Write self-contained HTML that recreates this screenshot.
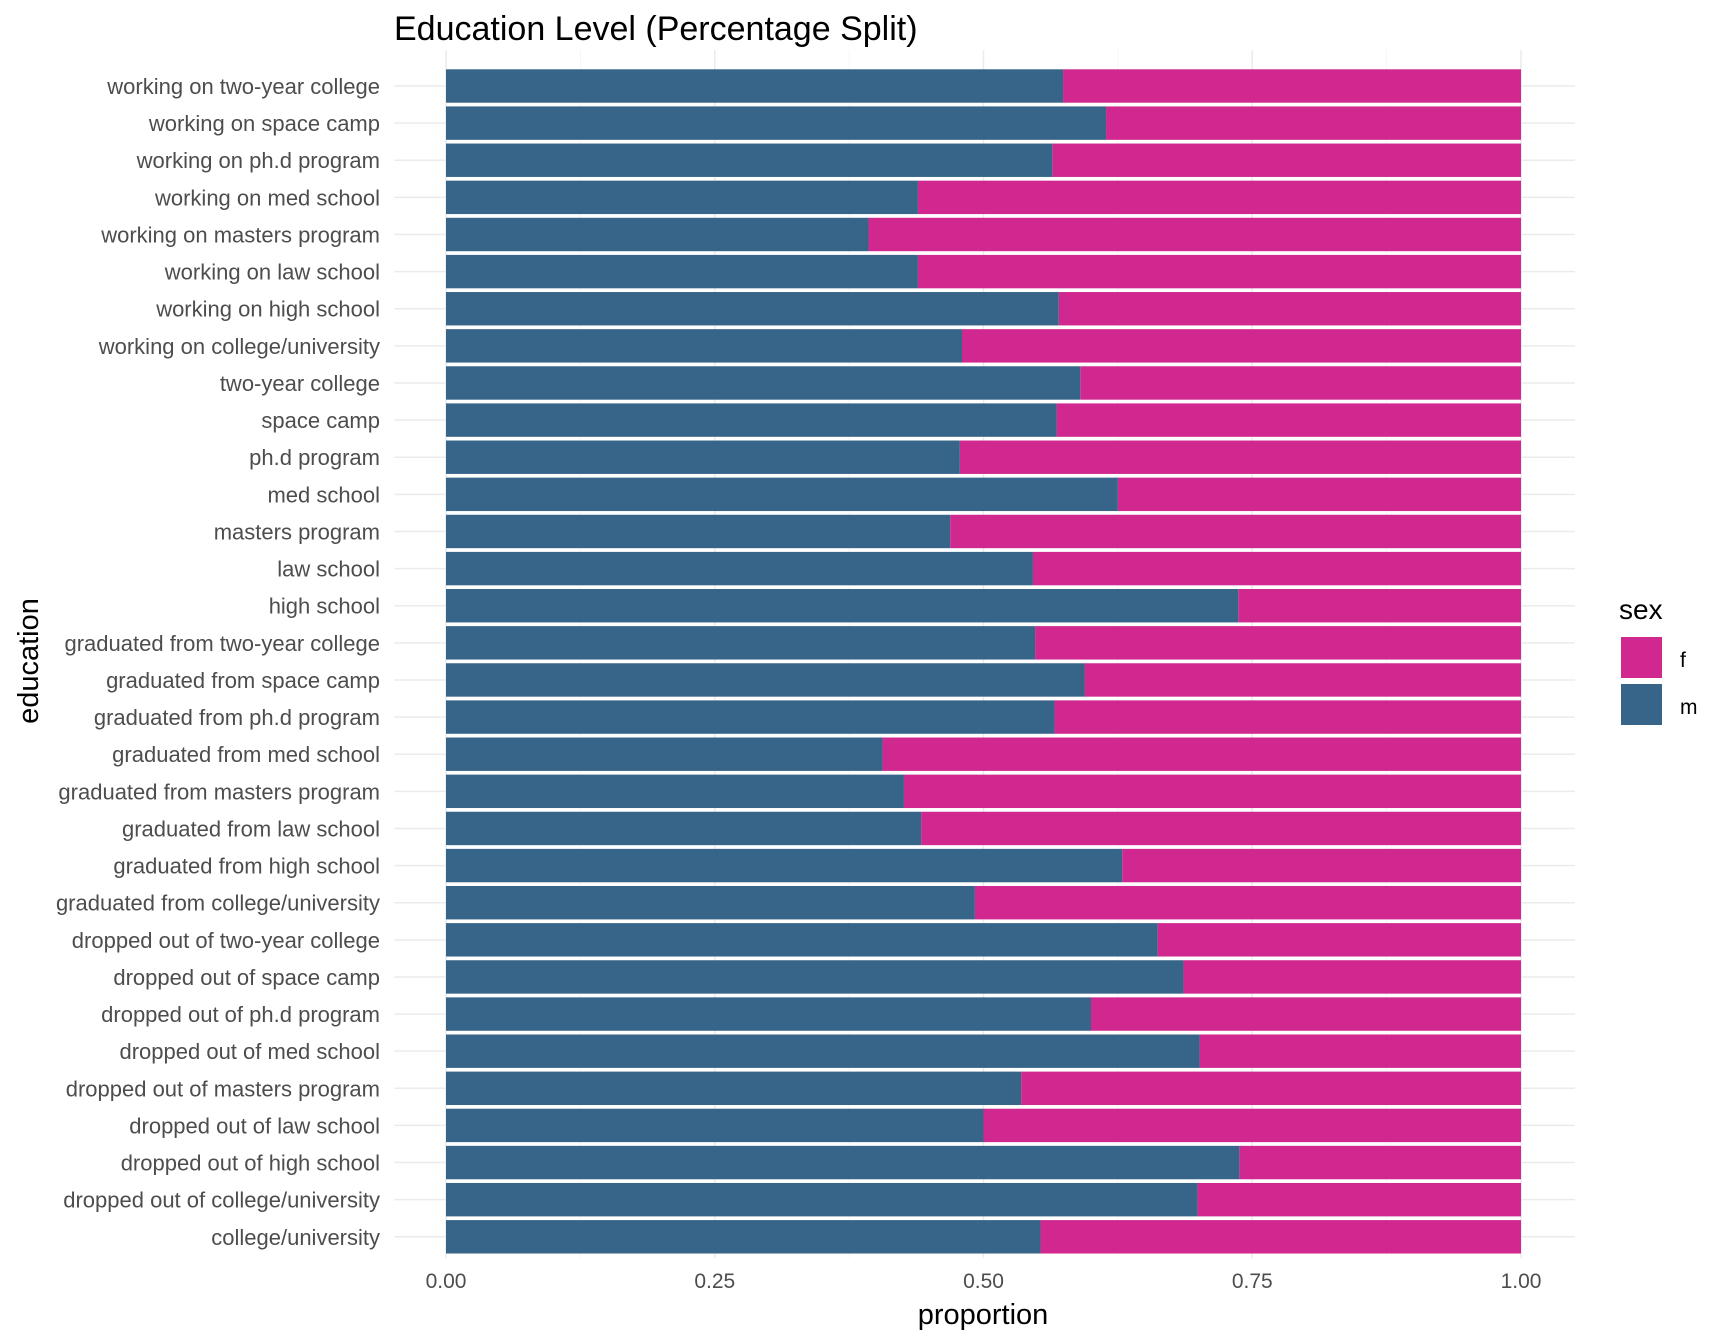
<!DOCTYPE html>
<html><head><meta charset="utf-8"><style>
html,body{margin:0;padding:0;background:#fff;width:1728px;height:1344px;overflow:hidden}
svg{font-family:"Liberation Sans",sans-serif}
</style></head><body>
<svg id="chart" width="1728" height="1344">
<text x="394" y="40" font-size="34" fill="#000">Education Level (Percentage Split)</text>
<g id="grid"></g><g id="bars"></g><g id="ylabels"></g><g id="xlabels"></g>
<text x="983" y="1324" font-size="29" fill="#000" text-anchor="middle">proportion</text>
<text transform="translate(38,661) rotate(-90)" font-size="29" fill="#000" text-anchor="middle">education</text>
<text x="1619" y="619" font-size="28" fill="#000">sex</text>
<rect x="1621" y="637" width="41" height="41" fill="#D0288F"/>
<text x="1680" y="667" font-size="21" fill="#000">f</text>
<rect x="1621" y="684" width="41" height="41" fill="#37658A"/>
<text x="1680" y="714" font-size="21" fill="#000">m</text>
</svg>
<script>
const categories=["working on two-year college","working on space camp","working on ph.d program","working on med school","working on masters program","working on law school","working on high school","working on college/university","two-year college","space camp","ph.d program","med school","masters program","law school","high school","graduated from two-year college","graduated from space camp","graduated from ph.d program","graduated from med school","graduated from masters program","graduated from law school","graduated from high school","graduated from college/university","dropped out of two-year college","dropped out of space camp","dropped out of ph.d program","dropped out of med school","dropped out of masters program","dropped out of law school","dropped out of high school","dropped out of college/university","college/university"];
const maleShare=[0.574,0.614,0.564,0.439,0.393,0.439,0.570,0.480,0.590,0.568,0.478,0.625,0.469,0.546,0.737,0.548,0.594,0.566,0.406,0.426,0.442,0.629,0.492,0.662,0.686,0.600,0.701,0.535,0.500,0.738,0.699,0.553];
const xTicks=[0,0.25,0.5,0.75,1];
const xTickLabels=["0.00","0.25","0.50","0.75","1.00"];
const NS="http://www.w3.org/2000/svg";
const X0=446,X1=1521,PL=394.3,PR=1575,PT=50,PB=1258;
const n=categories.length;
const yTop=86,yBot=1236.8;
const step=(yBot-yTop)/(n-1);
const xs=v=>X0+v*(X1-X0);
const yc=i=>yTop+i*step;
function mk(tag,attrs,parent){const e=document.createElementNS(NS,tag);for(const k in attrs)e.setAttribute(k,attrs[k]);parent.appendChild(e);return e;}
const grid=document.getElementById('grid'),bars=document.getElementById('bars'),yl=document.getElementById('ylabels'),xl=document.getElementById('xlabels');
for(let t=0;t<=1.0001;t+=0.125){const major=Math.abs(t*4-Math.round(t*4))<1e-6;
 const l=mk('line',{x1:xs(t),x2:xs(t),y1:PT,y2:PB,stroke:major?'#ebebeb':'#f3f3f3','stroke-width':major?1.5:0.8},grid);
 
 }
categories.forEach((c,i)=>{
 const g=mk('line',{x1:PL,x2:PR,y1:yc(i),y2:yc(i),stroke:'#ebebeb','stroke-width':1.5},grid);
 
 
 const h=step*0.9,y=yc(i)-h/2,m=maleShare[i];
 const rf=mk('rect',{x:xs(m),y:y,width:xs(1)-xs(m),height:h,fill:'#D0288F'},bars);
 
 
 const rm=mk('rect',{x:xs(0),y:y,width:xs(m)-xs(0),height:h,fill:'#37658A'},bars);
 
 
 const t=mk('text',{x:380,y:yc(i)+8,'font-size':22,fill:'#4d4d4d','text-anchor':'end'},yl);
 t.textContent=c;
 
 
});
xTicks.forEach((v,i)=>{const t=mk('text',{x:xs(v),y:1288,'font-size':21,fill:'#4d4d4d','text-anchor':'middle'},xl);
 t.textContent=xTickLabels[i];
 
 });
</script>
</body></html>
